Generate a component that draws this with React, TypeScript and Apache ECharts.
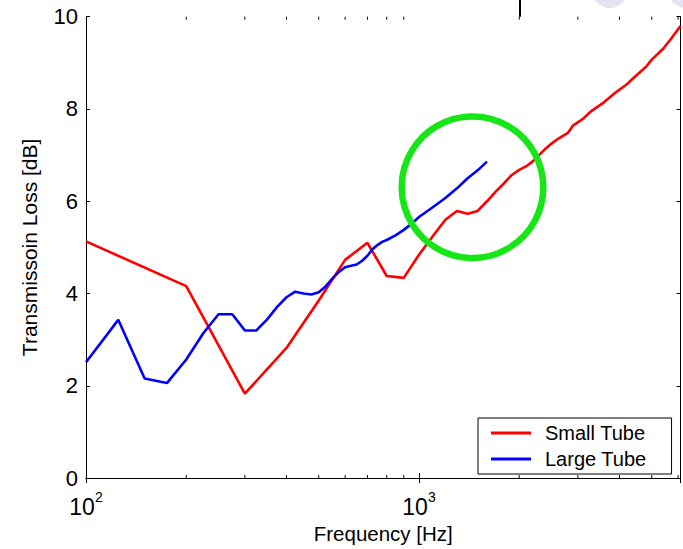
import React, { useEffect, useRef } from "react";
import * as echarts from "echarts";

const FONT = "'Liberation Sans', Arial, Helvetica, sans-serif";

// Small tube: [frequency Hz, transmission loss dB]
const smallFreq = [100, 200, 300, 400, 500, 600, 700, 800, 900, 1000, 1100, 1200, 1300, 1400, 1500, 1600, 1700, 1800, 1900, 2000, 2100, 2200, 2300, 2400, 2500, 2600, 2800, 2900, 3100, 3300, 3600, 3900, 4200, 4500, 4800, 5000, 5400, 5700, 6100];
const smallTL = [5.13, 4.16, 1.83, 2.82, 3.85, 4.73, 5.1, 4.38, 4.34, 4.84, 5.24, 5.6, 5.79, 5.73, 5.79, 6.0, 6.21, 6.39, 6.57, 6.68, 6.76, 6.87, 7.01, 7.14, 7.25, 7.34, 7.48, 7.64, 7.78, 7.96, 8.15, 8.36, 8.53, 8.73, 8.91, 9.07, 9.3, 9.51, 9.8];

// Large tube
const largeFreq = [100, 125, 150, 175, 200, 225, 250, 275, 300, 325, 350, 375, 400, 425, 450, 475, 500, 525, 550, 575, 600, 625, 650, 675, 700, 725, 750, 775, 800, 850, 875, 900, 950, 1000, 1100, 1200, 1300, 1400, 1500, 1600];
const largeTL = [2.51, 3.43, 2.16, 2.06, 2.57, 3.14, 3.55, 3.55, 3.2, 3.2, 3.44, 3.71, 3.92, 4.04, 4.0, 3.98, 4.03, 4.16, 4.33, 4.47, 4.57, 4.6, 4.63, 4.71, 4.82, 4.96, 5.05, 5.12, 5.16, 5.26, 5.32, 5.38, 5.51, 5.66, 5.87, 6.07, 6.28, 6.5, 6.67, 6.86];

// minor ticks of the log frequency axis
const minorTicks = [200, 300, 400, 500, 600, 700, 800, 900, 2000, 3000, 4000, 5000, 6000];

const X_MIN = 100;
const X_MAX = 6100;
const Y_MIN = 0;
const Y_MAX = 10;
const Y_STEP = 2;

export default function App() {
  const ref = useRef<HTMLDivElement>(null);

  useEffect(() => {
    if (!ref.current) return;
    const chart = echarts.init(ref.current, undefined, { renderer: "svg" });

    const xLabelFormatter = (v: number) => {
      const l = Math.log10(v);
      const e = Math.round(l);
      if (Math.abs(l - e) > 1e-6) return "";
      return `{b|10}{s|${e}}`;
    };

    const option: any = {
      animation: false,
      backgroundColor: "#ffffff",
      textStyle: { fontFamily: FONT },
      grid: { left: 86, right: 2.5, top: 16.7, bottom: 65.5, containLabel: false },
      xAxis: [
        {
          type: "log",
          logBase: 10,
          min: X_MIN,
          max: X_MAX,
          name: "Frequency [Hz]",
          nameLocation: "middle",
          nameGap: 41,
          nameTextStyle: { fontSize: 20.5, color: "#000", fontFamily: FONT },
          axisLine: { show: true, lineStyle: { color: "#000", width: 1 } },
          axisTick: { show: true, inside: true, length: 5, lineStyle: { color: "#000" } },
          splitLine: { show: false },
          axisLabel: {
            margin: 12,
            color: "#000",
            formatter: xLabelFormatter,
            showMaxLabel: false,
            rich: {
              b: { fontSize: 23, fontFamily: FONT, color: "#000", lineHeight: 28, verticalAlign: "bottom" },
              s: { fontSize: 14, fontFamily: FONT, color: "#000", lineHeight: 14, verticalAlign: "top" },
            },
          },
        },
        {
          type: "log",
          logBase: 10,
          position: "top",
          min: X_MIN,
          max: X_MAX,
          axisLine: { show: true, lineStyle: { color: "#000", width: 1 } },
          axisTick: { show: true, inside: true, length: 5, lineStyle: { color: "#000" } },
          axisLabel: { show: false },
          splitLine: { show: false },
        },
      ],
      yAxis: [
        {
          type: "value",
          min: Y_MIN,
          max: Y_MAX,
          interval: Y_STEP,
          name: "Transmissoin Loss [dB]",
          nameLocation: "middle",
          nameGap: 46,
          nameTextStyle: { fontSize: 21, color: "#000", fontFamily: FONT },
          axisLine: { show: true, lineStyle: { color: "#000", width: 1 } },
          axisTick: { show: true, inside: true, length: 4, lineStyle: { color: "#000" } },
          splitLine: { show: false },
          axisLabel: { fontSize: 22, color: "#000", margin: 8, fontFamily: FONT },
        },
        {
          type: "value",
          position: "right",
          min: Y_MIN,
          max: Y_MAX,
          interval: Y_STEP,
          axisLine: { show: true, lineStyle: { color: "#000", width: 1 } },
          axisTick: { show: true, inside: true, length: 4, lineStyle: { color: "#000" } },
          axisLabel: { show: false },
          splitLine: { show: false },
        },
      ],
      legend: {
        data: [
          { name: "Small Tube", icon: "rect" },
          { name: "Large Tube", icon: "rect" },
        ],
        orient: "vertical",
        left: 478,
        top: 418,
        padding: [5, 25, 5, 13],
        itemWidth: 40,
        itemHeight: 3,
        itemGap: 6,
        borderColor: "#000",
        borderWidth: 1,
        backgroundColor: "#fff",
        borderRadius: 0,
        textStyle: { fontSize: 20, color: "#000", fontFamily: FONT, lineHeight: 20, padding: [0, 0, 0, 9] },
      },
      series: [
        {
          name: "Small Tube",
          type: "line",
          data: smallFreq.map((f, i) => [f, smallTL[i]]),
          symbol: "none",
          color: "#ff0000",
          lineStyle: { color: "#ff0000", width: 2.6 },
          z: 2,
        },
        {
          name: "Large Tube",
          type: "line",
          data: largeFreq.map((f, i) => [f, largeTL[i]]),
          symbol: "none",
          color: "#0000ff",
          lineStyle: { color: "#0000ff", width: 2.6 },
          z: 3,
        },
        {
          name: "minorTicks",
          type: "custom",
          silent: true,
          clip: false,
          data: minorTicks.map((f) => [f, Y_MIN]),
          renderItem: (_params: any, api: any) => {
            const f = api.value(0);
            const b = api.coord([f, Y_MIN]);
            const t = api.coord([f, Y_MAX]);
            return {
              type: "group",
              children: [
                { type: "line", shape: { x1: b[0], y1: b[1], x2: b[0], y2: b[1] - 3 }, style: { stroke: "#000", lineWidth: 1 } },
                { type: "line", shape: { x1: t[0], y1: t[1], x2: t[0], y2: t[1] + 3 }, style: { stroke: "#000", lineWidth: 1 } },
              ],
            };
          },
          z: 1,
        },
      ],
      graphic: [
        {
          type: "circle",
          shape: { cx: 472.5, cy: 187.2, r: 70.8 },
          style: { fill: "none", stroke: "#16e616", lineWidth: 6.5 },
          z: 100,
        },
        {
          type: "line",
          shape: { x1: 520, y1: 0, x2: 520, y2: 16.7 },
          style: { stroke: "#000", lineWidth: 2 },
          z: 100,
        },
        {
          type: "circle",
          shape: { cx: 610, cy: -10, r: 18 },
          style: { fill: "#e4e4f5", stroke: "none" },
          z: 0,
        },
        {
          type: "circle",
          shape: { cx: 686, cy: -10, r: 18 },
          style: { fill: "#e4e4f5", stroke: "none" },
          z: 0,
        },
      ],
    };

    chart.setOption(option);
    return () => chart.dispose();
  }, []);

  return (
    <div
      ref={ref}
      style={{ position: "absolute", left: 0, top: 0, width: 683, height: 549, background: "#fff" }}
    />
  );
}
